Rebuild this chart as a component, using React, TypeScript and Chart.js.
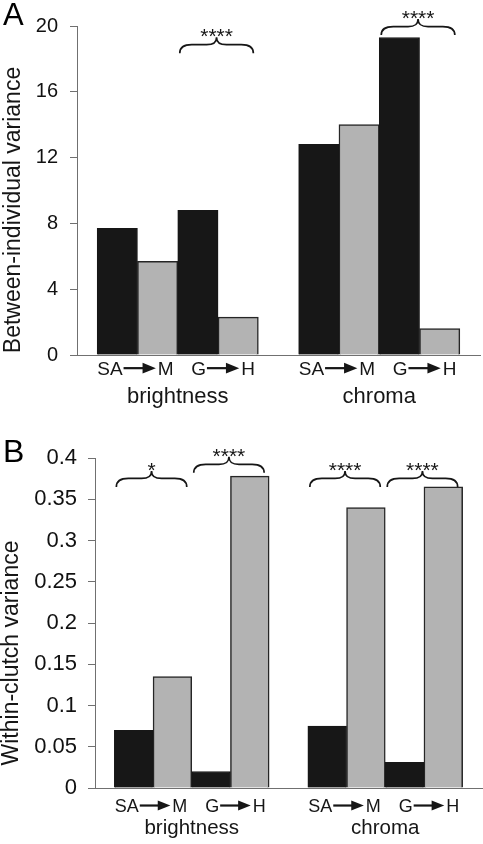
import React, { useEffect, useRef } from "react";
import { Chart, registerables } from "chart.js";

Chart.register(...registerables);

// ---------- data ----------
const traits = ["brightness", "chroma"];
const transitions = [
  ["SA", "M"],
  ["G", "H"],
];
// order of pairs: brightness SA→M, brightness G→H, chroma SA→M, chroma G→H
// Panel A: between-individual variance
const betweenFrom = [7.7, 8.8, 12.8, 19.3]; // black bars (SA / G)
const betweenTo = [5.7, 2.3, 14.0, 1.6]; // grey bars (M / H)
// Panel B: within-clutch variance
const withinFrom = [0.07, 0.02, 0.075, 0.031];
const withinTo = [0.135, 0.378, 0.34, 0.365];
const ticksA = [0, 4, 8, 12, 16, 20];
const ticksB = [0, 0.05, 0.1, 0.15, 0.2, 0.25, 0.3, 0.35, 0.4];
const sigA = ["", "****", "", "****"];
const sigB = ["*", "****", "****", "****"];
const braceLevelA = [0, 18.35, 0, 19.45];
const braceLevelB = [0.365, 0.382, 0.365, 0.365];
const slotLabels = ["", "SA", "M", "G", "H", "", "SA", "M", "G", "H", ""];

// ---------- style ----------
const FAMILY = '"Liberation Sans", Arial, Helvetica, sans-serif';
const AXIS = "#707070";
const INK = "#161616";
const BLACK = "#171717";
const GREY = "#b3b3b3";

const slotOf = (k: number) => 1 + Math.floor(k / 2) * 5 + (k % 2) * 2;

function toSlots(from: number[], to: number[]) {
  const black: (number | null)[] = slotLabels.map(() => null);
  const grey: (number | null)[] = slotLabels.map(() => null);
  from.forEach((v, k) => {
    const s = slotOf(k);
    black[s] = v;
    grey[s + 1] = to[k];
  });
  return { black, grey };
}

type PanelCfg = {
  letter: string;
  title: string;
  from: number[];
  to: number[];
  ticks: number[];
  max: number;
  sig: string[];
  braceLevels: number[];
  height: number;
  top: number;
  xAxisH: number;
  left: number;
  right: number;
  tickSize: number;
  tickPad: number;
  pairFont: number;
  pairBase: number;
  groupFont: number;
  groupBase: number;
  titleX: number;
  titleCY: number;
  titleFont: number;
  letterBase: number;
  letterSize: number;
};

const panelA: PanelCfg = {
  letter: "A",
  title: "Between-individual variance",
  from: betweenFrom,
  to: betweenTo,
  ticks: ticksA,
  max: 20,
  sig: sigA,
  braceLevels: braceLevelA,
  height: 420,
  top: 26,
  xAxisH: 65,
  left: 77,
  right: 3,
  tickSize: 20,
  tickPad: 12,
  pairFont: 19,
  pairBase: 375,
  groupFont: 22,
  groupBase: 403,
  titleX: 20,
  titleCY: 210,
  titleFont: 23,
  letterBase: 25,
  letterSize: 31,
};

const panelB: PanelCfg = {
  letter: "B",
  title: "Within-clutch variance",
  from: withinFrom,
  to: withinTo,
  ticks: ticksB,
  max: 0.4,
  sig: sigB,
  braceLevels: braceLevelB,
  height: 424,
  top: 38,
  xAxisH: 56,
  left: 95,
  right: 1,
  tickSize: 22,
  tickPad: 11,
  pairFont: 18,
  pairBase: 392,
  groupFont: 20.5,
  groupBase: 414,
  titleX: 18,
  titleCY: 233,
  titleFont: 23,
  letterBase: 42,
  letterSize: 32,
};

function drawPair(ctx: CanvasRenderingContext2D, a: string, b: string, cx: number, base: number, size: number) {
  ctx.font = `${size}px ${FAMILY}`;
  const wa = ctx.measureText(a).width;
  const wb = ctx.measureText(b).width;
  const arrowLen = size * 1.7;
  const headLen = size * 0.7;
  const headH = size * 0.28;
  const gap1 = 1;
  const gap2 = 2;
  const total = wa + gap1 + arrowLen + gap2 + wb;
  const x0 = cx - total / 2;
  ctx.textAlign = "left";
  ctx.textBaseline = "alphabetic";
  ctx.fillText(a, x0, base);
  const ay = base - size * 0.36;
  const ax0 = x0 + wa + gap1;
  const ax1 = ax0 + arrowLen;
  ctx.fillRect(ax0, ay - 1.1, arrowLen - headLen + 1, 2.2);
  ctx.beginPath();
  ctx.moveTo(ax1 - headLen, ay - headH);
  ctx.lineTo(ax1, ay);
  ctx.lineTo(ax1 - headLen, ay + headH);
  ctx.closePath();
  ctx.fill();
  ctx.fillText(b, ax1 + gap2, base);
}

function drawBrace(ctx: CanvasRenderingContext2D, x0: number, x1: number, yb: number) {
  const yh = yb - 8.5;
  const yt = yb - 16;
  const xc = (x0 + x1) / 2;
  ctx.beginPath();
  ctx.moveTo(x0, yb);
  ctx.bezierCurveTo(x0, yb - 6, x0 + 4, yh, x0 + 12, yh);
  ctx.lineTo(xc - 10, yh);
  ctx.bezierCurveTo(xc - 3, yh, xc, yh - 2, xc, yt);
  ctx.bezierCurveTo(xc, yh - 2, xc + 3, yh, xc + 10, yh);
  ctx.lineTo(x1 - 12, yh);
  ctx.bezierCurveTo(x1 - 4, yh, x1, yb - 6, x1, yb);
  ctx.stroke();
  return { xc, yt };
}

function annotPlugin(cfg: PanelCfg) {
  return {
    id: "annot" + cfg.letter,
    afterDraw(chart: any) {
      const ctx: CanvasRenderingContext2D = chart.ctx;
      const x = chart.scales.x;
      const y = chart.scales.y;
      const slotW = x.getPixelForValue(1) - x.getPixelForValue(0);
      ctx.save();
      ctx.fillStyle = INK;
      ctx.strokeStyle = INK;
      ctx.lineWidth = 1.7;
      for (let k = 0; k < 4; k++) {
        const s = slotOf(k);
        const left = x.getPixelForValue(s) - slotW / 2;
        const right = x.getPixelForValue(s + 1) + slotW / 2;
        const center = (left + right) / 2;
        const tr = transitions[k % 2];
        drawPair(ctx, tr[0], tr[1], center + (k % 2 ? 5 : -2), cfg.pairBase, cfg.pairFont);
        if (cfg.sig[k]) {
          const yb = y.getPixelForValue(cfg.braceLevels[k]);
          const { xc, yt } = drawBrace(ctx, left + 2, right - 5, yb);
          ctx.font = `21px ${FAMILY}`;
          ctx.textAlign = "center";
          ctx.textBaseline = "alphabetic";
          ctx.fillText(cfg.sig[k], xc, yt + 6);
        }
      }
      // group labels
      ctx.font = `${cfg.groupFont}px ${FAMILY}`;
      ctx.textAlign = "center";
      ctx.textBaseline = "alphabetic";
      for (let t = 0; t < traits.length; t++) {
        const c = (x.getPixelForValue(1 + t * 5) + x.getPixelForValue(4 + t * 5)) / 2;
        ctx.fillText(traits[t], c, cfg.groupBase);
      }
      // y title
      ctx.save();
      ctx.translate(cfg.titleX, cfg.titleCY);
      ctx.rotate(-Math.PI / 2);
      ctx.font = `${cfg.titleFont}px ${FAMILY}`;
      ctx.textAlign = "center";
      ctx.textBaseline = "alphabetic";
      ctx.fillText(cfg.title, 0, 0);
      ctx.restore();
      // panel letter
      ctx.font = `${cfg.letterSize}px ${FAMILY}`;
      ctx.textAlign = "left";
      ctx.fillStyle = "#000";
      ctx.fillText(cfg.letter, 3, cfg.letterBase);
      ctx.restore();
    },
  };
}

function Panel({ cfg }: { cfg: PanelCfg }) {
  const ref = useRef<HTMLCanvasElement>(null);
  useEffect(() => {
    const { black, grey } = toSlots(cfg.from, cfg.to);
    const chart = new Chart(ref.current as HTMLCanvasElement, {
      type: "bar",
      data: {
        labels: slotLabels,
        datasets: [
          { data: black, backgroundColor: BLACK, borderColor: BLACK, borderWidth: 1 },
          { data: grey, backgroundColor: GREY, borderColor: "#262626", borderWidth: 1.5 },
        ],
      },
      options: {
        responsive: false,
        animation: false,
        devicePixelRatio: 1,
        layout: { padding: { top: cfg.top, right: cfg.right, left: 0, bottom: 0 } },
        datasets: { bar: { barPercentage: 1, categoryPercentage: 1 } },
        plugins: { legend: { display: false }, tooltip: { enabled: false } },
        scales: {
          x: {
            type: "category",
            offset: false,
            stacked: true,
            grid: { display: false },
            border: { display: true, color: AXIS, width: 1 },
            ticks: { display: false },
            afterFit: (s: any) => {
              s.height = cfg.xAxisH;
            },
          },
          y: {
            stacked: true,
            min: 0,
            max: cfg.max,
            afterBuildTicks: (s: any) => {
              s.ticks = cfg.ticks.map((v) => ({ value: v }));
            },
            grid: { drawOnChartArea: false, tickLength: 7, color: AXIS },
            border: { display: true, color: AXIS, width: 1 },
            ticks: {
              padding: cfg.tickPad,
              color: "#111",
              font: { family: FAMILY, size: cfg.tickSize },
              callback: (v: any) => String(parseFloat(Number(v).toFixed(2))),
            },
            afterFit: (s: any) => {
              s.width = cfg.left;
            },
          },
        },
      } as any,
      plugins: [annotPlugin(cfg)],
    });
    return () => chart.destroy();
  }, [cfg]);
  return <canvas ref={ref} width={483} height={cfg.height} style={{ display: "block" }} />;
}

export default function App() {
  return (
    <div style={{ position: "fixed", left: 0, top: 0, width: 483, height: 844, background: "#fff" }}>
      <Panel cfg={panelA} />
      <Panel cfg={panelB} />
    </div>
  );
}
